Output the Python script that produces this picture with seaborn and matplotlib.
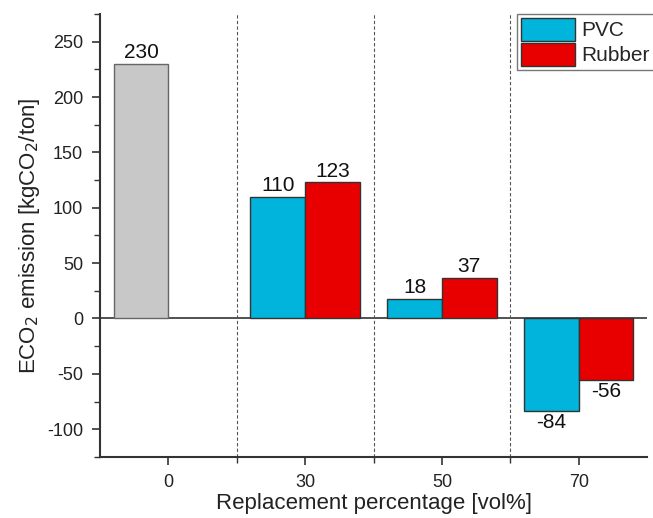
import matplotlib
matplotlib.use("Agg")
import matplotlib.pyplot as plt
import seaborn as sns
import pandas as pd
import numpy as np
from matplotlib.patches import Patch

categories = ["0", "30", "50", "70"]
pvc = [230, 110, 18, -84]
rubber = [np.nan, 123, 37, -56]
materials = ["PVC", "Rubber"]
colors = {"PVC": "#00B4DC", "Rubber": "#E80000"}
control_color = "#C8C8C8"

rows = []
for c, p, r in zip(categories, pvc, rubber):
    rows.append({"cat": c, "Material": "PVC", "val": p})
    rows.append({"cat": c, "Material": "Rubber", "val": r})
df = pd.DataFrame(rows)

sns.set_style("ticks")
plt.rcParams["font.family"] = ["Liberation Sans", "DejaVu Sans"]
plt.rcParams["axes.unicode_minus"] = False

fig = plt.figure(figsize=(6.53, 5.18), dpi=100)
ax = fig.add_axes([0.153, 0.118, 0.838, 0.855])

sns.barplot(data=df, x="cat", y="val", hue="Material", hue_order=materials,
            order=categories, palette=colors, width=0.8, edgecolor="#333333",
            linewidth=1.0, saturation=1, ax=ax, legend=False)

# control bar grey
ax.containers[0][0].set_facecolor(control_color)
ax.containers[0][0].set_edgecolor("#666666")

for cont in ax.containers:
    labels = []
    for bar in cont:
        h = bar.get_height()
        labels.append("" if np.isnan(h) else f"{h:.0f}")
    ax.bar_label(cont, labels=labels, fontsize=15, padding=1, color="#111111")

ax.axhline(0, color="#333333", lw=1.2, zorder=0)
for xs in [0.5, 1.5, 2.5]:
    ax.axvline(xs, color="#555555", lw=0.8, ls=(0, (3, 2)), zorder=0)

ax.set_xlim(-0.5, 3.5)
ax.set_ylim(-125, 275)
ax.set_yticks(range(-100, 251, 50))
ax.set_yticks(range(-125, 276, 25), minor=True)
ax.set_xticks([0.5, 1.5, 2.5], minor=True)
ax.tick_params(axis="both", which="major", labelsize=13, direction="out",
               length=6, width=1.2, color="#333333", labelcolor="#222222", pad=6)
ax.tick_params(axis="both", which="minor", direction="out", length=4,
               width=1.0, color="#333333")
for s in ["left", "bottom"]:
    ax.spines[s].set_linewidth(1.5)
    ax.spines[s].set_color("#333333")
sns.despine(ax=ax)

ax.set_xlabel("Replacement percentage [vol%]", fontsize=16, color="#222222", labelpad=2)
ax.set_ylabel("ECO$_2$ emission [kgCO$_2$/ton]", fontsize=16, color="#222222", labelpad=4)

handles = [Patch(facecolor=colors[m], edgecolor="#333333", label=m) for m in materials]
leg = ax.legend(handles=handles, loc="upper right", bbox_to_anchor=(1.012, 1.0),
                fontsize=15, frameon=True, fancybox=False, handlelength=2.6,
                handleheight=1.3, handletextpad=0.3, borderpad=0.2,
                labelspacing=0.1, borderaxespad=0.0)
leg.get_frame().set_edgecolor("#555555")
leg.get_frame().set_linewidth(1.0)

fig.savefig("out.png", dpi=100)
